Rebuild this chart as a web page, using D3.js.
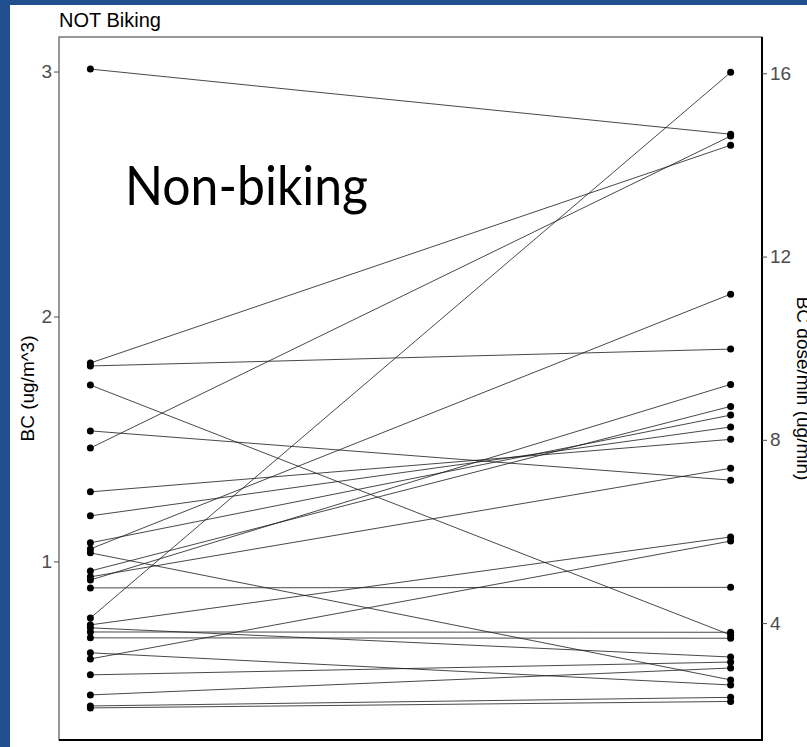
<!DOCTYPE html>
<html>
<head>
<meta charset="utf-8">
<script src="https://cdn.jsdelivr.net/npm/d3@7"></script>
<style>
  body { margin: 0; background: #fff; }
  svg { display: block; font-family: "Liberation Sans", Arial, sans-serif; }
</style>
</head>
<body>
<div id="chart"></div>
<script>
// measures on the two sides of the plot
var measures = ["BC", "BC dose/min"];

// BC concentration per subject (ug/m^3), left side
var bcValues = [3.01, 1.81, 1.798, 1.72, 1.533, 1.463, 1.284, 1.186, 1.076, 1.051, 1.035,
  0.961, 0.937, 0.924, 0.892, 0.769, 0.741, 0.729, 0.712, 0.688, 0.627, 0.602, 0.537,
  0.455, 0.41, 0.402];

// BC dose per minute per subject (ug/min), right side
var doseValues = [14.67, 14.43, 9.98, 3.74, 7.12, 14.63, 8.01, 8.28, 8.54, 11.18, 2.76,
  8.73, 7.38, 9.21, 4.78, 16.02, 5.88, 3.26, 3.80, 3.67, 2.65, 5.79, 3.15, 3.02,
  2.38, 2.29];

var bcTicks = [1, 2, 3];
var doseTicks = [4, 8, 12, 16];
var bcDomain = [0.271, 3.141];
var doseFactor = 5.346;   // sec axis = BC * factor

var W = 807, H = 747;
var margin = {top: 37, right: 45, bottom: 7, left: 59},
    width = W - margin.left - margin.right,
    height = H - margin.top - margin.bottom;

var svg = d3.select("#chart").append("svg")
    .attr("width", W)
    .attr("height", H);

// blue slide frame
svg.append("rect").attr("x", 0).attr("y", 0).attr("width", 10).attr("height", H).attr("fill", "#22508e");
svg.append("rect").attr("x", 0).attr("y", 0).attr("width", W).attr("height", 5).attr("fill", "#22508e");

var g = svg.append("g")
    .attr("transform", "translate(" + margin.left + "," + margin.top + ")");

var x = d3.scalePoint().domain(measures).range([0, width]).padding(0.049);
var yL = d3.scaleLinear().domain(bcDomain).range([height, 0]);
var yR = d3.scaleLinear().domain(bcDomain.map(function(d) { return d * doseFactor; })).range([height, 0]);

var pairs = bcValues.map(function(d, i) {
  return [{m: measures[0], v: yL(d)}, {m: measures[1], v: yR(doseValues[i])}];
});

var line = d3.line()
    .x(function(d) { return x(d.m); })
    .y(function(d) { return d.v; });

// connecting lines
g.selectAll(".pair").data(pairs).enter().append("path")
    .attr("class", "pair")
    .attr("d", line)
    .attr("fill", "none")
    .attr("stroke", "#1a1a1a")
    .attr("stroke-width", 0.8);

// points
var pts = [];
pairs.forEach(function(p) { pts.push(p[0], p[1]); });
g.selectAll(".pt").data(pts).enter().append("circle")
    .attr("class", "pt")
    .attr("cx", function(d) { return x(d.m); })
    .attr("cy", function(d) { return d.v; })
    .attr("r", 3.5)
    .attr("fill", "#000");

// panel border
g.append("rect")
    .attr("width", width).attr("height", height)
    .attr("fill", "none").attr("stroke", "#333").attr("stroke-width", 1);
g.append("line").attr("x1", width).attr("x2", width).attr("y1", 0).attr("y2", height + 1)
    .attr("stroke", "#000").attr("stroke-width", 2);
g.append("line").attr("x1", 0).attr("x2", width + 1).attr("y1", height).attr("y2", height)
    .attr("stroke", "#000").attr("stroke-width", 2);

// left axis
var axL = g.append("g")
    .call(d3.axisLeft(yL).tickValues(bcTicks).tickSize(5).tickPadding(2).tickFormat(d3.format("d")));
axL.select(".domain").remove();
axL.selectAll("line").attr("stroke", "#4d4d4d");
axL.selectAll("text").attr("fill", "#4d4d4d").style("font-size", "19px")
    .style("font-family", "Liberation Sans, Arial, sans-serif");

// right axis
var axR = g.append("g")
    .attr("transform", "translate(" + width + ",0)")
    .call(d3.axisRight(yR).tickValues(doseTicks).tickSize(5).tickPadding(3).tickFormat(d3.format("d")));
axR.select(".domain").remove();
axR.selectAll("line").attr("stroke", "#4d4d4d");
axR.selectAll("text").attr("fill", "#4d4d4d").style("font-size", "19px")
    .style("font-family", "Liberation Sans, Arial, sans-serif");

// axis titles
svg.append("text")
    .attr("transform", "translate(34," + (margin.top + height / 2) + ") rotate(-90)")
    .attr("text-anchor", "middle")
    .style("font-size", "19px")
    .text("BC (ug/m^3)");

svg.append("text")
    .attr("transform", "translate(797," + (margin.top + height / 2) + ") rotate(90)")
    .attr("text-anchor", "middle")
    .style("font-size", "19px")
    .text("BC dose/min (ug/min)");

// plot title
svg.append("text")
    .attr("x", margin.left).attr("y", 27)
    .style("font-size", "20px")
    .text("NOT Biking");

// slide annotation
svg.append("text")
    .attr("x", 125).attr("y", 205)
    .attr("textLength", 243).attr("lengthAdjust", "spacingAndGlyphs")
    .style("font-family", "Lato, 'Open Sans', sans-serif")
    .style("font-size", "55px")
    .text("Non-biking");
</script>
</body>
</html>
